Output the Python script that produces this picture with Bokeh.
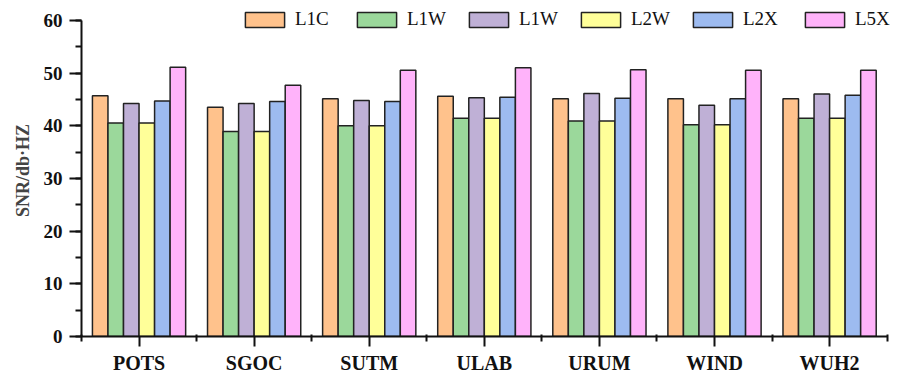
from bokeh.plotting import figure
from bokeh.models import (ColumnDataSource, Legend, LegendItem, FixedTicker,
                          SingleIntervalTicker, Range1d)
from bokeh.embed import file_html
from bokeh.resources import INLINE

# Stations and per-signal SNR values (dB-Hz)
stations = ["POTS", "SGOC", "SUTM", "ULAB", "URUM", "WIND", "WUH2"]
series_names = ["L1C", "L1W", "L1W", "L2W", "L2X", "L5X"]
l1c = [45.7, 43.5, 45.1, 45.6, 45.1, 45.1, 45.1]
l1w_a = [40.5, 38.9, 40.0, 41.4, 40.9, 40.2, 41.4]
l1w_b = [44.2, 44.2, 44.8, 45.3, 46.1, 43.9, 46.0]
l2w = [40.5, 38.9, 40.0, 41.4, 40.9, 40.2, 41.4]
l2x = [44.7, 44.6, 44.6, 45.4, 45.2, 45.1, 45.8]
l5x = [51.1, 47.7, 50.5, 51.0, 50.6, 50.5, 50.5]
series_values = [l1c, l1w_a, l1w_b, l2w, l2x, l5x]
colors = ["#FFC28C", "#9BD89B", "#BFB0D6", "#FFFF99", "#9DBBF0", "#FFB3FA"]

serif = "Liberation Serif"
bar_w = 0.135
x_idx = list(range(len(stations)))

# the frame runs a little past the axes so the legend row fits inside it;
# the axes themselves are bounded to the data extent
p = figure(width=899, height=376, output_backend="svg", toolbar_location=None,
           x_range=Range1d(-0.5, 6.59), y_range=Range1d(0, 63.0),
           min_border_left=81, min_border_right=2, min_border_top=4,
           min_border_bottom=38)
p.outline_line_color = None
p.xgrid.visible = False
p.ygrid.visible = False
p.background_fill_color = "white"
p.border_fill_color = "white"

items = []
n = len(series_values)
for i, (name, vals, col) in enumerate(zip(series_names, series_values, colors)):
    off = (i - (n - 1) / 2) * bar_w
    src = ColumnDataSource(dict(x=[xi + off for xi in x_idx], top=vals))
    r = p.vbar(x="x", top="top", bottom=0, width=bar_w, source=src,
               fill_color=col, line_color="#222222", line_width=1.5)
    items.append(LegendItem(label=name, renderers=[r]))

legend = Legend(items=items, orientation="horizontal", location=(159, 306),
                padding=0, margin=0, spacing=17, glyph_width=49, glyph_height=19,
                label_width=40, label_height=19, label_standoff=6,
                label_text_font=serif, label_text_font_size="19px",
                label_text_color="#111111", border_line_color=None,
                background_fill_alpha=0)
p.add_layout(legend, "center")

# x axis: station names at group centres, minor ticks at group boundaries
p.xaxis.ticker = FixedTicker(ticks=x_idx,
                             minor_ticks=[k - 0.5 for k in range(len(stations) + 1)])
p.xaxis.bounds = (-0.5, len(stations) - 0.5)
p.xaxis.major_label_overrides = {k: s for k, s in enumerate(stations)}
p.xaxis.major_tick_out = 10
p.xaxis.major_tick_in = 0
p.xaxis.minor_tick_out = 5
p.xaxis.minor_tick_in = 2
p.xaxis.major_label_standoff = 5
p.xaxis.major_label_text_font = serif
p.xaxis.major_label_text_font_style = "bold"
p.xaxis.major_label_text_font_size = "20px"
p.xaxis.major_label_text_color = "#111111"

# y axis
p.yaxis.ticker = SingleIntervalTicker(interval=10, num_minor_ticks=2)
p.yaxis.bounds = (0, 60)
p.yaxis.axis_label = "SNR/db·HZ"
p.yaxis.axis_label_text_font = serif
p.yaxis.axis_label_text_font_style = "bold"
p.yaxis.axis_label_text_font_size = "18px"
p.yaxis.axis_label_standoff = 8
p.yaxis.major_tick_out = 12
p.yaxis.major_tick_in = 0
p.yaxis.minor_tick_out = 6
p.yaxis.minor_tick_in = 0
p.yaxis.major_label_standoff = 7
p.yaxis.major_label_text_font = serif
p.yaxis.major_label_text_font_style = "bold"
p.yaxis.major_label_text_font_size = "19px"
p.yaxis.major_label_text_color = "#111111"

for ax in (p.xaxis, p.yaxis):
    ax.axis_line_width = 2
    ax.major_tick_line_width = 2
    ax.minor_tick_line_width = 2
    ax.axis_line_color = "#111111"
    ax.major_tick_line_color = "#111111"
    ax.minor_tick_line_color = "#111111"

open("out.html", "w").write(file_html(p, INLINE))
